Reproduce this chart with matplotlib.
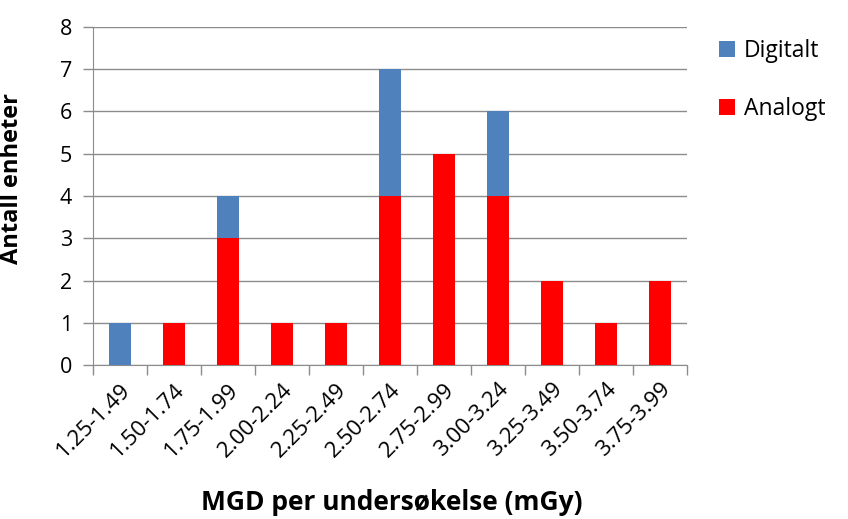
import numpy as np
import matplotlib.pyplot as plt

plt.rcParams['font.family'] = ['Open Sans', 'DejaVu Sans']

# dose intervals and number of units per interval
intervals = ["1.25-1.49", "1.50-1.74", "1.75-1.99", "2.00-2.24", "2.25-2.49",
             "2.50-2.74", "2.75-2.99", "3.00-3.24", "3.25-3.49", "3.50-3.74",
             "3.75-3.99"]
analogt = [0, 1, 3, 1, 1, 4, 5, 4, 2, 1, 2]
digitalt = [1, 0, 1, 0, 0, 3, 0, 2, 0, 0, 0]

fig = plt.figure(figsize=(8.48, 5.19), dpi=100)
ax = fig.add_axes([0.1097, 0.2967, 0.7003, 0.6513])

x = np.arange(len(intervals))
ax.bar(x, analogt, width=0.4, color="#FF0000", label="Analogt", zorder=3)
ax.bar(x, digitalt, width=0.4, bottom=analogt, color="#4F81BD", label="Digitalt", zorder=3)

ax.set_xlim(-0.5, len(intervals) - 0.5)
ax.set_ylim(0, 8)
ax.set_yticks(range(0, 9))
ax.yaxis.grid(True, color="#8C8C8C", linewidth=1)
ax.set_axisbelow(True)

# category boundaries as tick marks, labels centred under the bars
ax.set_xticks(np.arange(-0.5, len(intervals)), minor=False)
ax.set_xticklabels([])
ax.set_xticks(x, minor=True)
ax.set_xticklabels(intervals, minor=True, rotation=45, ha="right",
                   rotation_mode="anchor", fontsize=16)
ax.tick_params(axis="x", which="minor", length=0, pad=10)
ax.tick_params(axis="x", which="major", length=7, color="#8C8C8C", width=1)
ax.tick_params(axis="y", length=7, color="#8C8C8C", width=1, labelsize=15.5, pad=8)

for side in ["top", "right"]:
    ax.spines[side].set_visible(False)
ax.spines["left"].set_color("#8C8C8C")
ax.spines["bottom"].set_color("#8C8C8C")

ax.set_ylabel("Antall enheter", fontsize=17, fontweight="bold")
ax.yaxis.set_label_coords(-0.116, 0.553)
fig.text(0.462, 0.018, "MGD per undersøkelse (mGy)", fontsize=19,
         fontweight="bold", ha="center")

handles, labels = ax.get_legend_handles_labels()
fig.legend(handles[::-1], labels[::-1], loc="upper left",
           bbox_to_anchor=(0.823, 0.965), frameon=False, fontsize=16.5,
           handlelength=0.7, handleheight=0.7, handletextpad=0.4,
           labelspacing=1.5)

fig.savefig("out.png", dpi=100)
